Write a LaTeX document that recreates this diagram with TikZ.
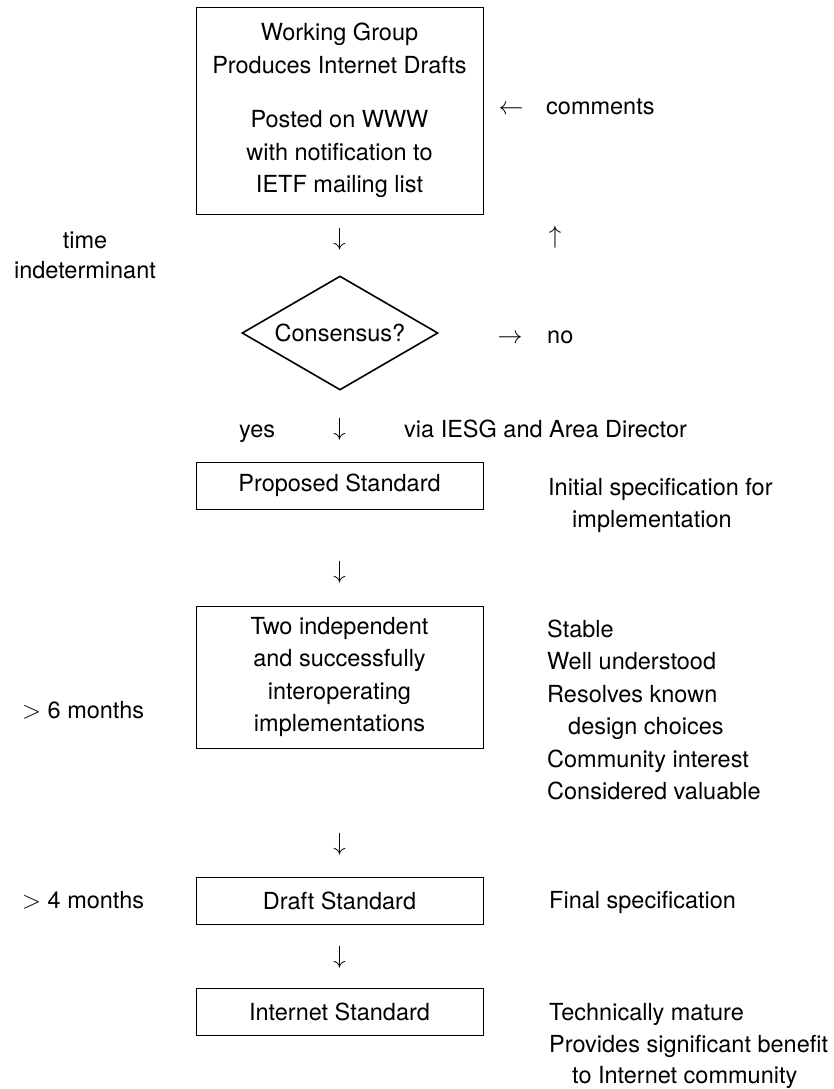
\documentclass[tikz,border=0pt]{standalone}
\usepackage{fontspec}
\setmainfont{TeX Gyre Heros}
\usetikzlibrary{shapes.geometric}
\begin{document}
\begin{tikzpicture}[x=1pt,y=-1pt]
\tikzset{
  lbl/.style={inner sep=0pt, font=\fontsize{23.5}{32.5}\selectfont},
  box/.style={lbl, draw, line width=0.9pt, align=center, minimum width=287pt},
  dec/.style={lbl, draw, diamond, line width=1.6pt, minimum width=196pt, minimum height=114pt, shape aspect=1.72},
}
\useasboundingbox (0,0) rectangle (834,1089);

% boxes
\node[box, minimum height=207pt] (wg) at (339.5,110.5)
  {Working Group\\Produces Internet Drafts\\[22pt]Posted on WWW\\with notification to\\IETF mailing list};
\node[dec] (cons) at (340,333) {Consensus?};
\node[box, minimum height=47pt] (ps) at (339.5,485.5) {Proposed Standard};
\node[box, minimum height=142pt] (ti) at (339.5,677)
  {Two independent\\and successfully\\interoperating\\implementations};
\node[box, minimum height=47pt] (ds) at (339.5,900.5) {Draft Standard};
\node[box, minimum height=47pt] (is) at (339.5,1011.5) {Internet Standard};

% arrow glyphs
\node[lbl] (d1) at (339.5,239) {$\downarrow$};
\node[lbl] (d2) at (339.5,429) {$\downarrow$};
\node[lbl] (d3) at (339.5,572) {$\downarrow$};
\node[lbl] (d4) at (339.5,844) {$\downarrow$};
\node[lbl] (d5) at (339.5,957) {$\downarrow$};
\node[lbl] (up) at (555,237) {$\uparrow$};
\node[lbl, anchor=base] (la) at (511,115) {$\leftarrow$};
\node[lbl, anchor=base] (ra) at (510,343) {$\rightarrow$};

% side labels
\node[lbl, anchor=base west] (com) at (546,115) {comments};
\node[lbl, anchor=base west] (no) at (547,343) {no};
\node[lbl, anchor=base] (time1) at (85,248) {time};
\node[lbl, anchor=base] (time2) at (85,278) {indeterminant};
\node[lbl, anchor=base west] (yes) at (239,437) {yes};
\node[lbl, anchor=base west] (via) at (404,437) {via IESG and Area Director};

\node[lbl, anchor=base west] (ps1) at (548,495) {Initial specification for};
\node[lbl, anchor=base west] (ps2) at (572,527) {implementation};

\node[lbl, anchor=base west] (m6) at (22,718) {$>$ 6 months};
\node[lbl, anchor=base west] (t1) at (547,637) {Stable};
\node[lbl, anchor=base west] (t2) at (547,669.5) {Well understood};
\node[lbl, anchor=base west] (t3) at (547,702) {Resolves known};
\node[lbl, anchor=base west] (t4) at (568,734.5) {design choices};
\node[lbl, anchor=base west] (t5) at (547,767) {Community interest};
\node[lbl, anchor=base west] (t6) at (547,799.5) {Considered valuable};

\node[lbl, anchor=base west] (m4) at (22,908) {$>$ 4 months};
\node[lbl, anchor=base west] (ds1) at (549,908) {Final specification};

\node[lbl, anchor=base west] (is1) at (549,1020) {Technically mature};
\node[lbl, anchor=base west] (is2) at (549,1052.5) {Provides significant benefit};
\node[lbl, anchor=base west] (is3) at (572,1083) {to Internet community};
\end{tikzpicture}
\end{document}
